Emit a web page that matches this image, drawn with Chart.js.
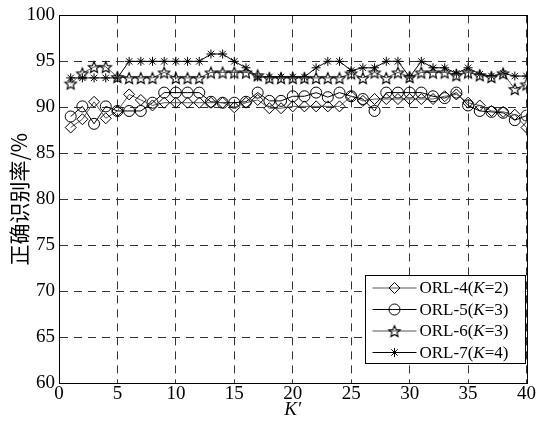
<!DOCTYPE html>
<html>
<head>
<meta charset="utf-8">
<script src="https://cdn.jsdelivr.net/npm/chart.js@4.4.0/dist/chart.umd.min.js"></script>
<style>
  html, body { margin: 0; padding: 0; background: #fff; }
</style>
</head>
<body>
<canvas id="chart" width="536" height="423"></canvas>
<script>
// K' values along the x axis
const kValues = [1, 2, 3, 4, 5, 6, 7, 8, 9, 10, 11, 12, 13, 14, 15, 16, 17, 18, 19, 20,
                 21, 22, 23, 24, 25, 26, 27, 28, 29, 30, 31, 32, 33, 34, 35, 36, 37, 38, 39, 40];

// recognition rate (%) per series
const orl4 = [87.8, 88.7, 90.6, 88.8, 89.6, 91.4, 90.8, 90.2, 90.5, 90.5,
              90.5, 90.5, 90.5, 90.5, 90.0, 90.5, 90.8, 89.9, 89.9, 90.1,
              90.1, 90.1, 90.1, 90.1, 91.2, 90.7, 90.9, 90.9, 90.9, 90.9,
              90.9, 90.9, 91.2, 91.4, 90.5, 90.2, 89.6, 89.5, 89.2, 87.8];
const orl5 = [89.0, 90.1, 88.2, 90.1, 89.6, 89.6, 89.6, 90.5, 91.6, 91.6,
              91.6, 91.6, 90.6, 90.5, 90.5, 90.6, 91.6, 90.7, 90.7, 91.2,
              91.2, 91.6, 91.1, 91.6, 91.2, 90.9, 89.6, 91.6, 91.6, 91.6,
              91.6, 91.2, 91.0, 91.6, 90.2, 89.6, 89.5, 89.4, 88.6, 89.1];
const orl6 = [92.6, 93.7, 94.4, 94.4, 93.3, 93.2, 93.2, 93.2, 93.8, 93.2,
              93.2, 93.2, 93.8, 93.8, 93.8, 93.8, 93.5, 93.2, 93.2, 93.2,
              93.2, 93.2, 93.2, 93.2, 93.7, 93.2, 93.8, 93.2, 93.8, 93.3,
              93.8, 93.8, 93.8, 93.5, 93.8, 93.5, 93.3, 93.7, 92.0, 92.5];
const orl7 = [93.2, 93.2, 93.2, 93.2, 93.2, 95.0, 95.0, 95.0, 95.0, 95.0,
              95.0, 95.0, 95.8, 95.8, 95.0, 94.3, 93.3, 93.3, 93.3, 93.3,
              93.3, 94.3, 95.0, 95.0, 94.0, 94.3, 94.3, 95.0, 95.0, 93.3,
              95.0, 94.3, 94.3, 93.7, 94.3, 93.6, 93.4, 93.7, 93.4, 93.4];

const seriesNames = ['ORL-4', 'ORL-5', 'ORL-6', 'ORL-7'];
const seriesK = ['2', '3', '3', '4'];

// five-pointed star outline used as a point style
function makeStar(r) {
    const size = Math.ceil(r * 2 + 4);
    const c = document.createElement('canvas');
    c.width = size;
    c.height = size;
    const g = c.getContext('2d');
    const cx = size / 2, cy = size / 2 + 0.8;
    g.beginPath();
    for (let i = 0; i < 10; i++) {
        const rad = (i % 2 === 0) ? r : r * 0.45;
        const a = -Math.PI / 2 + i * Math.PI / 5;
        const px = cx + rad * Math.cos(a);
        const py = cy + rad * Math.sin(a);
        if (i === 0) g.moveTo(px, py); else g.lineTo(px, py);
    }
    g.closePath();
    g.strokeStyle = '#000';
    g.lineWidth = 1.1;
    g.stroke();
    return c;
}
const starImg = makeStar(6);

function toPoints(values) {
    return kValues.map((k, i) => ({ x: k, y: values[i] }));
}

const styles = [
    { line: '#555', pointStyle: 'rectRot', radius: 5.5 },
    { line: '#000', pointStyle: 'circle', radius: 5.5 },
    { line: '#555', pointStyle: starImg, radius: 6 },
    { line: '#000', pointStyle: 'star', radius: 4.5 }
];
const allValues = [orl4, orl5, orl6, orl7];

const datasets = allValues.map((vals, i) => ({
    label: seriesNames[i] + '(K=' + seriesK[i] + ')',
    data: toPoints(vals),
    borderColor: styles[i].line,
    borderWidth: 1,
    pointStyle: styles[i].pointStyle,
    pointRadius: styles[i].radius,
    pointBorderColor: '#000',
    pointBorderWidth: 1,
    pointBackgroundColor: 'rgba(0,0,0,0)',
    tension: 0
}));

// solid frame around the plot area
const framePlugin = {
    id: 'frame',
    afterDraw(chart) {
        const { ctx, chartArea: a } = chart;
        ctx.save();
        ctx.strokeStyle = '#000';
        ctx.lineWidth = 1;
        ctx.strokeRect(Math.round(a.left) + 0.5, Math.round(a.top) + 0.5,
                       Math.round(a.right - a.left), Math.round(a.bottom - a.top));
        ctx.restore();
    }
};

// boxed legend in the lower right of the plot
const boxLegend = {
    id: 'boxLegend',
    afterDraw(chart) {
        const { ctx, chartArea: a } = chart;
        const w = 160, h = 88;
        const x0 = Math.round(a.right - 2 - w) + 0.5;
        const y0 = Math.round(a.bottom - 20 - h) + 0.5;
        ctx.save();
        ctx.fillStyle = '#fff';
        ctx.fillRect(x0, y0, w, h);
        ctx.strokeStyle = '#000';
        ctx.lineWidth = 1;
        ctx.strokeRect(x0, y0, w, h);

        const fontN = '17px "Liberation Serif", "Times New Roman", serif';
        const fontI = 'italic 17px "Liberation Serif", "Times New Roman", serif';
        for (let i = 0; i < 4; i++) {
            const y = y0 + 12.5 + i * 21.5;
            ctx.strokeStyle = styles[i].line;
            ctx.lineWidth = 1;
            ctx.beginPath();
            ctx.moveTo(x0 + 7, y);
            ctx.lineTo(x0 + 51, y);
            ctx.stroke();

            ctx.strokeStyle = '#000';
            ctx.fillStyle = 'rgba(0,0,0,0)';
            Chart.helpers.drawPoint(ctx, {
                pointStyle: styles[i].pointStyle,
                radius: styles[i].radius,
                borderWidth: 1,
                rotation: 0
            }, x0 + 29, y);

            ctx.fillStyle = '#000';
            ctx.textBaseline = 'middle';
            ctx.textAlign = 'left';
            let tx = x0 + 54;
            const parts = [
                [seriesNames[i] + '(', fontN],
                ['K', fontI],
                ['=' + seriesK[i] + ')', fontN]
            ];
            parts.forEach(p => {
                ctx.font = p[1];
                ctx.fillText(p[0], tx, y + 1);
                tx += ctx.measureText(p[0]).width;
            });
        }
        ctx.restore();
    }
};

const tickFont = { family: '"Liberation Serif", "Times New Roman", serif', size: 19 };

new Chart(document.getElementById('chart').getContext('2d'), {
    type: 'line',
    data: { datasets: datasets },
    options: {
        responsive: false,
        animation: false,
        devicePixelRatio: 1,
        layout: { padding: { top: 15, right: 9, left: 0, bottom: 0 } },
        plugins: {
            legend: { display: false },
            tooltip: { enabled: false }
        },
        scales: {
            x: {
                type: 'linear',
                min: 0,
                max: 40,
                ticks: { stepSize: 5, color: '#000', font: tickFont, padding: 0, maxRotation: 0 },
                grid: { color: '#333', lineWidth: 1, drawTicks: false },
                border: { color: '#000', dash: [8, 6] },
                title: {
                    display: true,
                    text: 'K\u2032',
                    color: '#000',
                    font: { family: '"Liberation Serif", serif', size: 19, style: 'italic' },
                    padding: { top: 0, bottom: 2 }
                },
                afterFit(scale) { scale.height = 40; }
            },
            y: {
                min: 60,
                max: 100,
                ticks: { stepSize: 5, color: '#000', font: tickFont, padding: 4 },
                grid: { color: '#333', lineWidth: 1, drawTicks: false },
                border: { color: '#000', dash: [8, 6] },
                title: {
                    display: true,
                    text: '正确识别率/%',
                    color: '#000',
                    font: { family: '"Noto Sans CJK SC", sans-serif', size: 21 },
                    padding: { top: 6, bottom: 0 }
                },
                afterFit(scale) { scale.width = 59; }
            }
        }
    },
    plugins: [framePlugin, boxLegend]
});
</script>
</body>
</html>
